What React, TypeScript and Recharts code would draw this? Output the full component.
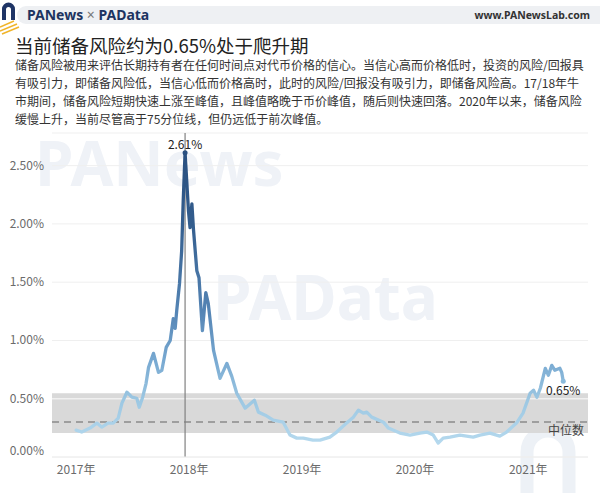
import React from 'react';
import {
  LineChart,
  Line,
  XAxis,
  YAxis,
  CartesianGrid,
  ReferenceArea,
  ReferenceLine,
  ReferenceDot,
} from 'recharts';

// ---------- data ----------
const dates = [
  '2017-01-01', '2017-01-19', '2017-02-15', '2017-03-09', '2017-03-25', '2017-04-14',
  '2017-05-01', '2017-05-17', '2017-05-29', '2017-06-14', '2017-06-30', '2017-07-16',
  '2017-07-24', '2017-08-04', '2017-08-15', '2017-08-23', '2017-09-08', '2017-09-24',
  '2017-10-05', '2017-10-19', '2017-11-01', '2017-11-11', '2017-11-17', '2017-11-22',
  '2017-12-01', '2017-12-08', '2017-12-13', '2017-12-19', '2017-12-30', '2018-01-04',
  '2018-01-10', '2018-01-15', '2018-01-26', '2018-02-02', '2018-02-13', '2018-02-24',
  '2018-03-04', '2018-03-21', '2018-04-11', '2018-05-03', '2018-05-19', '2018-06-04',
  '2018-07-01', '2018-07-31', '2018-08-13', '2018-09-04', '2018-09-30', '2018-11-01',
  '2018-11-23', '2018-12-15', '2019-01-05', '2019-02-05', '2019-02-28', '2019-04-01',
  '2019-04-23', '2019-05-25', '2019-06-16', '2019-07-02', '2019-07-18', '2019-07-29',
  '2019-08-14', '2019-09-21', '2019-10-07', '2019-11-13', '2019-12-16', '2020-01-17',
  '2020-02-08', '2020-02-29', '2020-03-16', '2020-04-01', '2020-04-23', '2020-05-25',
  '2020-07-07', '2020-07-29', '2020-08-30', '2020-10-01', '2020-10-23', '2020-11-24',
  '2020-12-15', '2021-01-07', '2021-01-18', '2021-01-29', '2021-02-09', '2021-02-25',
  '2021-03-07', '2021-03-18', '2021-03-28', '2021-04-13', '2021-04-19', '2021-04-24',
];

const reserveRisk = [
  0.231, 0.214, 0.248, 0.291, 0.256, 0.291,
  0.291, 0.333, 0.462, 0.556, 0.513, 0.504,
  0.427, 0.513, 0.632, 0.769, 0.889, 0.726,
  0.744, 0.94, 1.0, 1.188, 1.103, 1.256,
  1.487, 1.769, 2.197, 2.61, 2.111, 1.968,
  2.171, 1.957, 1.598, 1.538, 1.085, 1.41,
  1.316, 0.915, 0.675, 0.803, 0.692, 0.547,
  0.419, 0.487, 0.385, 0.359, 0.316, 0.299,
  0.188, 0.162, 0.162, 0.145, 0.145, 0.171,
  0.214, 0.291, 0.342, 0.402, 0.376, 0.385,
  0.342, 0.299, 0.248, 0.205, 0.188, 0.205,
  0.214, 0.188, 0.12, 0.162, 0.171, 0.188,
  0.171, 0.188, 0.205, 0.179, 0.214, 0.291,
  0.376, 0.547, 0.573, 0.513, 0.59, 0.761,
  0.701, 0.786, 0.744, 0.761, 0.726, 0.65,
];

const yearTicks = ['2017-01-01', '2018-01-01', '2019-01-01', '2020-01-01', '2021-01-01'];
const valueTicks = [0, 0.5, 1, 1.5, 2, 2.5];
const xDomain = ['2016-10-15', '2021-07-13'];
const yDomainMax = 2.78;
const medianValue = 0.3;
const quartileLow = 0.205;
const quartileHigh = 0.547;

const titleText = '当前储备风险约为0.65%处于爬升期';
const bodyLines = [
  '储备风险被用来评估长期持有者在任何时间点对代币价格的信心。当信心高而价格低时，投资的风险/回报具',
  '有吸引力，即储备风险低，当信心低而价格高时，此时的风险/回报没有吸引力，即储备风险高。17/18年牛',
  '市期间，储备风险短期快速上涨至峰值，且峰值略晚于币价峰值，随后则快速回落。2020年以来，储备风险',
  '缓慢上升，当前尽管高于75分位线，但仍远低于前次峰值。',
];
const medianLabel = '中位数';

// ---------- derived ----------
const data = dates.map((d, i) => ({ t: Date.parse(d), v: reserveRisk[i] }));
const peak = data.reduce((a, b) => (b.v > a.v ? b : a), data[0]);
const last = data[data.length - 1];
const fmtPct = (v: number) => `${v.toFixed(2)}%`;

const FONT = '"Noto Sans CJK SC", "Noto Sans", sans-serif';

const YTick = (props: any) => {
  const { x, y, payload } = props;
  const shift = payload.value === 0 ? -6 : 0;
  return (
    <text x={x} y={y + shift} dy={4} textAnchor="end" fill="#6b6b6b" fontSize={12} fontFamily={FONT}>
      {fmtPct(payload.value)}
    </text>
  );
};

export default function App() {
  return (
    <div
      style={{
        position: 'absolute',
        left: 0,
        top: 0,
        width: 600,
        height: 493,
        background: '#ffffff',
        overflow: 'hidden',
        fontFamily: FONT,
      }}
    >
      {/* watermarks & header graphics */}
      <svg width={600} height={493} style={{ position: 'absolute', left: 0, top: 0 }}>
        <text x={35} y={186} fontSize={62} fontWeight={700} fill="#eff2f7" fontFamily='"Noto Sans", sans-serif'>
          PANews
        </text>
        <text x={213} y={320} fontSize={62} fontWeight={700} fill="#eff2f7" fontFamily='"Noto Sans", sans-serif'>
          PAData
        </text>
        <path d="M527 493 V452 a21 21 0 0 1 42 0 V493" stroke="#edf1f6" strokeWidth={13} fill="none" />
        {/* header bar */}
        <rect x={17} y={6} width={600} height={18} rx={9} fill="#eef0f3" />
        <path d="M2 20 V9 a6.5 6.5 0 0 1 13 0 V20 h-4 V9.5 a2.5 2.5 0 0 0 -5 0 V20 Z" fill="#1f3566" />
        <line x1={0} y1={27} x2={14} y2={21} stroke="#f0b429" strokeWidth={1.5} />
        <line x1={0} y1={31} x2={17} y2={24} stroke="#f0b429" strokeWidth={1.5} />
        <line x1={2} y1={34} x2={19} y2={27} stroke="#f0b429" strokeWidth={1.5} />
        <text x={27} y={20} fontSize={14} fontWeight={700} fill="#1d3461" fontFamily='"Noto Sans", sans-serif'>
          PANews <tspan fill="#777" fontWeight={400}>×</tspan> PAData
        </text>
        <text x={590} y={19} fontSize={10.5} fontWeight={700} fill="#333" textAnchor="end" fontFamily='"Noto Sans", sans-serif'>
          www.PANewsLab.com
        </text>
      </svg>

      <div
        style={{
          position: 'absolute',
          left: 15,
          top: 32,
          fontSize: 18.5,
          lineHeight: '26px',
          color: '#222',
          whiteSpace: 'nowrap',
        }}
      >
        {titleText}
      </div>
      <div
        style={{
          position: 'absolute',
          left: 15,
          top: 56,
          fontSize: 12,
          lineHeight: '18px',
          color: '#333',
          whiteSpace: 'nowrap',
        }}
      >
        {bodyLines.map((l, i) => (
          <div key={i}>{l}</div>
        ))}
      </div>

      <div style={{ position: 'absolute', left: 0, top: 0 }}>
        <LineChart
          width={600}
          height={493}
          data={data}
          margin={{ top: 133, right: 12, bottom: 6, left: 0 }}
        >
          <defs>
            <linearGradient id="riskGrad" x1="0" y1="0" x2="0" y2="1">
              <stop offset="0" stopColor="#2a5080" />
              <stop offset="0.25" stopColor="#345e8e" />
              <stop offset="0.55" stopColor="#5585b5" />
              <stop offset="0.72" stopColor="#79aad2" />
              <stop offset="0.85" stopColor="#9cc7e2" />
              <stop offset="1" stopColor="#b5d9ee" />
            </linearGradient>
          </defs>
          <CartesianGrid vertical={false} stroke="#efefef" />
          <XAxis
            dataKey="t"
            type="number"
            domain={xDomain.map((d) => Date.parse(d))}
            ticks={yearTicks.map((d) => Date.parse(d))}
            tickFormatter={(t: number) => `${new Date(t).getUTCFullYear()}年`}
            tick={{ fill: '#6b6b6b', fontSize: 12, fontFamily: FONT }}
            tickLine={false}
            axisLine={{ stroke: '#eeeeee' }}
            height={30}
            allowDataOverflow
          />
          <YAxis
            type="number"
            domain={[0, yDomainMax]}
            ticks={valueTicks}
            tick={<YTick />}
            tickLine={false}
            axisLine={false}
            width={52}
            allowDataOverflow
          />
          <ReferenceArea y1={quartileLow} y2={quartileHigh} fill="#d9d9d9" fillOpacity={1} stroke="none" />
          <ReferenceLine y={0.5} stroke="#f0f0f0" strokeWidth={1.5} />
          <ReferenceLine
            y={medianValue}
            stroke="#8a8a8a"
            strokeWidth={1.5}
            strokeDasharray="7 5"
            label={{ value: medianLabel, position: 'insideTopRight', fill: '#444', fontSize: 12, fontFamily: FONT, offset: 4 }}
          />
          <ReferenceLine x={peak.t} stroke="#808080" strokeWidth={1.2} />
          <Line
            type="linear"
            dataKey="v"
            stroke="url(#riskGrad)"
            strokeWidth={3.3}
            dot={false}
            strokeLinejoin="round"
            strokeLinecap="round"
            isAnimationActive={false}
          />
          <ReferenceDot
            x={peak.t}
            y={peak.v}
            r={2.5}
            fill="#2a5080"
            stroke="none"
            label={{ value: fmtPct(peak.v), position: 'top', fill: '#222', fontSize: 12, fontFamily: FONT, offset: 1 }}
          />
          <ReferenceDot
            x={last.t}
            y={last.v}
            r={2.5}
            fill="#8bbbdc"
            stroke="none"
            label={{ value: fmtPct(last.v), position: 'bottom', fill: '#222', fontSize: 12, fontFamily: FONT, offset: 3 }}
          />
        </LineChart>
      </div>
    </div>
  );
}
